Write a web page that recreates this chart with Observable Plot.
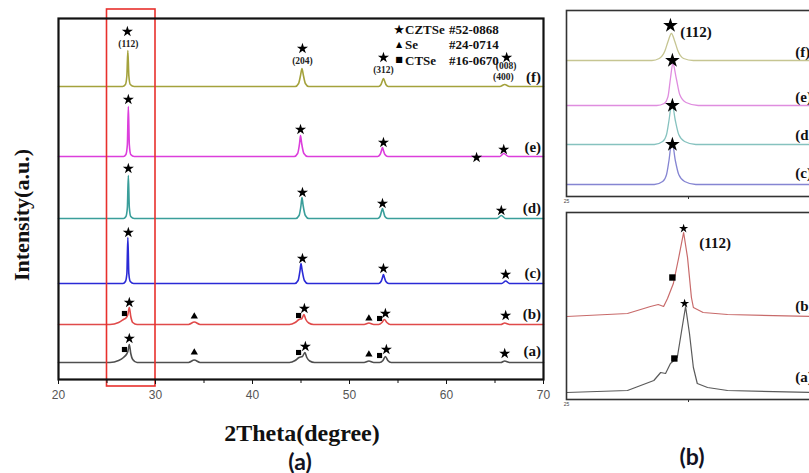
<!DOCTYPE html>
<html><head><meta charset="utf-8">
<script src="https://cdn.jsdelivr.net/npm/d3@7"></script>
<script src="https://cdn.jsdelivr.net/npm/@observablehq/plot@0.6"></script>
<style>
html,body{margin:0;padding:0;background:#fff}
#wrap{position:relative;width:809px;height:473px;overflow:hidden;background:#fff}
.abs{position:absolute;white-space:nowrap;line-height:1}
.c{transform:translate(-50%,-50%)}
svg{overflow:visible}
</style></head><body><div id="wrap"></div>
<script>
// ---------- data: main panel (a) ----------
const xDomain = [20, 70];
const majorTicks = [20, 30, 40, 50, 60, 70];
const minorTicks = [25, 35, 45, 55, 65];
const highlight = [{x1: 25, x2: 30, y1: -7, y2: 370}];

const sampleNames = ["(a)", "(b)", "(c)", "(d)", "(e)", "(f)"];
const sampleColors = ["#4f4f4f", "#e04a4a", "#2a2ad6", "#3a9e9a", "#dc3edc", "#a4a23c"];
const labelY = [28, 65, 106, 171, 232, 302];

const traceA = [[20,17],[25.3,17],[26.2,19],[26.7,22],[27.0,25],[27.15,28],[27.3,35],[27.45,26],[27.65,20],[28.1,17],
  [33.4,17],[34.0,19.5],[34.6,17],[43.8,17],[44.4,19],[44.8,22],[45.15,23],[45.4,27],[45.6,22],[45.9,18.5],[46.4,17],
  [51.5,17],[52.0,18.5],[52.5,17],[53.1,17],[53.45,19],[53.7,23],[53.95,19],[54.3,17],[65.6,17],[66.0,18.5],[66.5,17],[70,17]];
const traceB = [[20,55],[25.3,55],[26.2,57],[26.7,60],[27.0,62],[27.15,65],[27.3,72],[27.45,63],[27.65,57],[28.1,55],
  [33.4,55],[34.0,57.5],[34.6,55],[43.8,55],[44.4,57],[44.8,60],[45.1,61],[45.3,65],[45.5,60],[45.8,56.5],[46.3,55],
  [51.5,55],[52.0,56.5],[52.5,55],[53.0,55],[53.35,57],[53.6,60],[53.85,57],[54.2,55],[65.6,55],[66.0,56.5],[66.5,55],[70,55]];
const traceC = [[20,96],[26.65,96],[26.9,98],[27.05,106],[27.15,142],[27.25,106],[27.4,98],[27.75,96],
  [44.35,96],[44.7,99],[44.9,109],[45.0,116],[45.12,109],[45.35,99],[45.7,96],
  [53.0,96],[53.25,98],[53.4,102],[53.5,105],[53.6,102],[53.75,98],[54.05,96],[65.7,96],[66.1,98.5],[66.5,96],[70,96]];
const traceD = [[20,161],[26.7,161],[26.95,163],[27.1,172],[27.2,204],[27.3,172],[27.45,163],[27.8,161],
  [44.45,161],[44.8,164],[45.0,174],[45.1,182],[45.22,174],[45.45,164],[45.8,161],
  [52.9,161],[53.15,163],[53.3,168],[53.4,171],[53.5,168],[53.65,163],[53.95,161],[65.2,161],[65.65,164],[66.1,161],[70,161]];
const traceE = [[20,223],[26.7,223],[26.95,225],[27.1,235],[27.2,273],[27.3,235],[27.45,225],[27.8,223],
  [44.3,223],[44.65,226],[44.85,236],[44.95,244],[45.07,236],[45.3,226],[45.7,223],
  [52.9,223],[53.15,225],[53.3,229],[53.4,232],[53.5,229],[53.65,225],[53.95,223],[65.5,223],[65.9,226],[66.4,223],[70,223]];
const traceF = [[20,293],[26.6,293],[26.9,295],[27.05,304],[27.15,329],[27.25,304],[27.4,295],[27.8,293],
  [44.4,293],[44.75,296],[44.95,304],[45.1,311],[45.25,304],[45.45,296],[45.8,293],
  [53.0,293],[53.25,295],[53.4,299],[53.5,301],[53.6,299],[53.75,295],[54.0,293],[65.5,293],[66.0,295],[66.5,293],[70,293]];
const mainTraces = [traceA, traceB, traceC, traceD, traceE, traceF];

const starsMain = [[27.1,348],[45.15,331],[53.5,322],[66.2,322],
  [27.2,280],[44.95,250],[53.5,237],[63.1,222],[65.9,230],
  [27.2,211],[45.15,187],[53.4,176],[65.65,169],
  [27.2,147],[45.15,121],[53.5,111],[66.1,105],
  [27.3,77],[45.35,71],[53.7,66],[66.1,64],
  [27.3,41],[45.45,33],[53.8,30],[66.0,26]];
const squaresMain = [[26.8,66],[44.75,64],[53.1,61],[26.8,30],[44.75,27],[53.1,24]];
const trianglesMain = [[34.0,63],[52.0,61],[34.0,27],[52.0,25]];
const hklMain = [[27.2,336,"(112)"],[45.15,319,"(204)"],[53.5,310,"(312)"],[66.15,314,"(008)"],[65.85,303,"(400)"]];
const legendItems = [["★","CZTSe","#52-0868"],["▲","Se","#24-0714"],["■","CTSe","#16-0670"]];

// ---------- data: inset (b), top: samples c-f around (112) ----------
const insetDomain = [25, 30];
const insetTopNames = ["(c)", "(d)", "(e)", "(f)"];
const insetTopColors = ["#8585d2", "#86c2bf", "#df8ddf", "#c6c592"];
const insetTopLabelY = [23, 61, 99, 144];
const insetC = [[25,12],[26.8,12],[26.97,15],[27.05,22],[27.1,36],[27.16,56],[27.23,36],[27.3,22],[27.42,15],[27.65,12],[30,12]];
const insetD = [[25,52],[26.8,52],[26.97,55],[27.05,62],[27.1,76],[27.16,94],[27.23,76],[27.3,62],[27.42,55],[27.65,52],[30,52]];
const insetE = [[25,91],[26.85,91],[27.0,93],[27.08,100],[27.13,118],[27.18,133],[27.25,118],[27.32,102],[27.45,94],[27.7,91],[30,91]];
const insetF = [[25,136],[26.75,136],[26.9,138],[27.02,146],[27.08,155],[27.15,163],[27.22,155],[27.28,146],[27.4,138],[27.6,136],[30,136]];
const insetTopTraces = [insetC, insetD, insetE, insetF];
const insetTopStars = [[27.17,52],[27.17,91],[27.17,136],[27.13,171]];

// ---------- data: inset (b), bottom: samples a-b around (112) ----------
const insetBotNames = ["(a)", "(b)"];
const insetBotColors = ["#5a5a5a", "#c86a6a"];
const insetBotLabelY = [22, 93];
const insetA = [[25,7],[26.25,9],[26.79,19],[26.93,27],[27.03,26],[27.13,36],[27.27,42],[27.35,66],[27.44,93],[27.52,66],[27.6,32],[27.68,16],[27.89,12],[28.3,9],[30,7]];
const insetB = [[25,83],[26.25,86],[26.72,93],[26.88,95],[26.99,93],[27.07,101],[27.19,116],[27.3,142],[27.4,167],[27.48,142],[27.56,102],[27.6,92],[27.8,87],[28.3,85],[30,83]];
const insetBotTraces = [insetA, insetB];
const insetBotStars = [[27.42,96],[27.4,171]];
const insetBotSquares = [[27.21,41],[27.17,122]];

// ---------- helpers ----------
const serif = "Liberation Serif, Times New Roman, serif";
const sans = "Liberation Sans, Arial, sans-serif";
const pts = a => a.map(([x, y]) => ({x, y}));
const wrap = document.getElementById("wrap");
function place(el, left, top) { el.style.position = "absolute"; el.style.left = left + "px"; el.style.top = top + "px"; wrap.appendChild(el); }
function label(text, x, y, css) {
  const d = document.createElement("div"); d.className = "abs c"; d.textContent = text;
  d.style.left = x + "px"; d.style.top = y + "px"; d.style.cssText += css; wrap.appendChild(d); return d;
}

// ---------- main plot ----------
const main = Plot.plot({
  width: 560, height: 410,
  marginLeft: 58, marginRight: 17, marginTop: 18, marginBottom: 31,
  x: {domain: xDomain}, y: {domain: [0, 361], axis: null},
  style: {fontFamily: sans, fontSize: "12px", background: "transparent", overflow: "visible"},
  marks: [
    ...mainTraces.map((t, i) => Plot.line(pts(t), {x: "x", y: "y", stroke: sampleColors[i], strokeWidth: 1.6, curve: "monotone-x"})),
    Plot.rect(highlight, {x1: "x1", x2: "x2", y1: "y1", y2: "y2", stroke: "#e8302c", strokeWidth: 1.6, fill: "none"}),
    Plot.frame({stroke: "#111", strokeWidth: 2.2}),
    Plot.axisX({ticks: majorTicks, tickSize: 5, tickPadding: 6, stroke: "#111", fill: "#555", label: null, tickFormat: d => d}),
    Plot.axisX({ticks: minorTicks, tickSize: 4, stroke: "#111", label: null, tickFormat: () => ""}),
    Plot.dot(pts(starsMain), {x: "x", y: "y", symbol: "star", r: 3.5, fill: "#000", stroke: "none"}),
    Plot.dot(pts(squaresMain), {x: "x", y: "y", symbol: "square", r: 2.9, fill: "#000", stroke: "none"}),
    Plot.dot(pts(trianglesMain), {x: "x", y: "y", symbol: "triangle", r: 2.7, fill: "#000", stroke: "none"}),
    Plot.text(hklMain, {x: "0", y: "1", text: "2", fontFamily: serif, fontWeight: "bold", fontSize: 9.5, fill: "#222"}),
    Plot.text(sampleNames, {x: () => 69.75, y: (d, i) => labelY[i], text: d => d, textAnchor: "end", fontFamily: serif, fontWeight: "bold", fontSize: 15, fill: "#111"})
  ]
});
place(main, 0, 0);

// legend (HTML)
legendItems.forEach(([sym, name, card], i) => {
  const y = 29 + i * 15.5;
  const sizes = [13, 8, 8];
  const s = document.createElement("div"); s.className = "abs c"; s.textContent = sym;
  s.style.cssText += `left:399px;top:${y}px;font-family:DejaVu Sans;font-size:${sizes[i]}px;color:#000`;
  wrap.appendChild(s);
  const n = document.createElement("div"); n.className = "abs"; n.textContent = name;
  n.style.cssText += `left:405px;top:${y - 6.5}px;font-family:${serif};font-weight:bold;font-size:13px;color:#111`;
  wrap.appendChild(n);
  const c = document.createElement("div"); c.className = "abs"; c.textContent = card;
  c.style.cssText += `left:449px;top:${y - 6.5}px;font-family:${serif};font-weight:bold;font-size:13px;color:#111`;
  wrap.appendChild(c);
});

// titles
const yt = label("Intensity(a.u.)", 22, 215, `font-family:${serif};font-weight:bold;font-size:22px;color:#111`);
yt.style.transform = "translate(-50%,-50%) rotate(-90deg)";
label("2Theta(degree)", 302, 433, `font-family:${serif};font-weight:bold;font-size:24px;color:#111`);
label("(a)", 300, 461, `font-family:Lato, Open Sans, sans-serif;font-weight:bold;font-size:23px;color:#121222`);
label("(b)", 692, 456, `font-family:Lato, Open Sans, sans-serif;font-weight:bold;font-size:23px;color:#121222`);

// ---------- inset top ----------
const insetTop = Plot.plot({
  width: 264, height: 215,
  marginLeft: 10, marginRight: 10, marginTop: 10, marginBottom: 19,
  x: {domain: insetDomain}, y: {domain: [0, 186], axis: null},
  style: {fontFamily: sans, fontSize: "5px", background: "transparent", overflow: "visible"},
  marks: [
    ...insetTopTraces.map((t, i) => Plot.line(pts(t), {x: "x", y: "y", stroke: insetTopColors[i], strokeWidth: 1.3, curve: "monotone-x"})),
    Plot.frame({stroke: "#333", strokeWidth: 1.6}),
    Plot.axisX({ticks: [25], tickSize: 0, tickPadding: 3, fill: "#444", label: null, tickFormat: d => d}),
    Plot.axisX({ticks: [27.5], tickSize: 3, stroke: "#333", label: null, tickFormat: () => ""}),
    Plot.dot(pts(insetTopStars), {x: "x", y: "y", symbol: "star", r: 4.6, fill: "#000", stroke: "none"}),
    Plot.text(["(112)"], {x: () => 27.33, y: () => 164, text: d => d, textAnchor: "start", fontFamily: serif, fontWeight: "bold", fontSize: 15, fill: "#111"}),
    Plot.text(insetTopNames, {x: () => 29.69, y: (d, i) => insetTopLabelY[i], text: d => d, textAnchor: "start", fontFamily: serif, fontWeight: "bold", fontSize: 15, fill: "#111"})
  ]
});
place(insetTop, 556, 0);

// ---------- inset bottom ----------
const insetBot = Plot.plot({
  width: 264, height: 220,
  marginLeft: 10, marginRight: 10, marginTop: 12, marginBottom: 21,
  x: {domain: insetDomain}, y: {domain: [0, 187], axis: null},
  style: {fontFamily: sans, fontSize: "5px", background: "transparent", overflow: "visible"},
  marks: [
    ...insetBotTraces.map((t, i) => Plot.line(pts(t), {x: "x", y: "y", stroke: insetBotColors[i], strokeWidth: 1.2, curve: "linear"})),
    Plot.frame({stroke: "#333", strokeWidth: 1.6}),
    Plot.axisX({ticks: [25], tickSize: 0, tickPadding: 3, fill: "#444", label: null, tickFormat: d => d}),
    Plot.axisX({ticks: [27.5], tickSize: 3, stroke: "#333", label: null, tickFormat: () => ""}),
    Plot.dot(pts(insetBotStars), {x: "x", y: "y", symbol: "star", r: 2.9, fill: "#000", stroke: "none"}),
    Plot.dot(pts(insetBotSquares), {x: "x", y: "y", symbol: "square", r: 3.6, fill: "#000", stroke: "none"}),
    Plot.text(["(112)"], {x: () => 27.72, y: () => 156, text: d => d, textAnchor: "start", fontFamily: serif, fontWeight: "bold", fontSize: 15, fill: "#111"}),
    Plot.text(insetBotNames, {x: () => 29.69, y: (d, i) => insetBotLabelY[i], text: d => d, textAnchor: "start", fontFamily: serif, fontWeight: "bold", fontSize: 15, fill: "#111"})
  ]
});
place(insetBot, 556, 200);
</script></body></html>
